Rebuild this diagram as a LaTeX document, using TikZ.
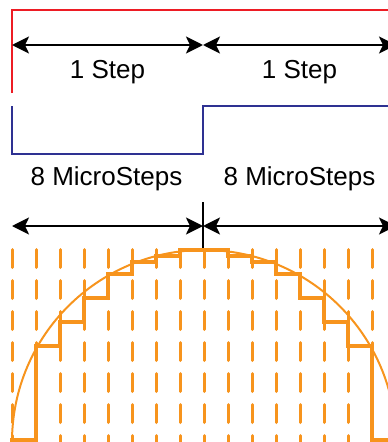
\documentclass[tikz,border=0pt]{standalone}
\usepackage{fontspec}
\setmainfont{Liberation Sans}
\usetikzlibrary{arrows.meta}
\definecolor{stepred}{HTML}{ED1C24}
\definecolor{stepnavy}{HTML}{2E3192}
\definecolor{microorange}{HTML}{F7941D}
\begin{document}
\begin{tikzpicture}[x=1pt,y=-1pt,
  span/.style={line width=2.2pt,
    {Stealth[length=17pt,width=17pt,inset=4pt]}-{Stealth[length=17pt,width=17pt,inset=4pt]}},
  label/.style={anchor=base,inner sep=0pt,font=\fontsize{26}{30}\selectfont},
  fullstep/.style={line width=2.6pt,stepred},
  halfstep/.style={line width=2.6pt,stepnavy},
  stair/.style={line width=3.4pt,microorange,line join=miter},
  sine/.style={line width=2pt,microorange},
  gridline/.style={line width=3pt,microorange,line cap=round,
    dash pattern=on 18pt off 13pt}]
\useasboundingbox (0,0) rectangle (388,442);
\clip (0,0) rectangle (388,442);

% full-step waveform
\draw[fullstep] (12,93) -- (12,10) -- (400,10);
% step width markers
\coordinate (a0) at (12,45);
\coordinate (a1) at (203,45);
\coordinate (a2) at (396,45);
\draw[span] (a0) -- (a1);
\draw[span] (a1) -- (a2);
\node[label] (stepA) at (107.5,78) {1 Step};
\node[label] (stepB) at (299.5,78) {1 Step};

% half-step waveform
\draw[halfstep] (12,106) -- (12,154) -- (203,154) -- (203,106) -- (400,106);
\node[label] (microA) at (106.5,185) {8 MicroSteps};
\node[label] (microB) at (299.5,185) {8 MicroSteps};

% microstep markers
\coordinate (b0) at (12,226);
\coordinate (b1) at (203,226);
\coordinate (b2) at (396,226);
\coordinate (t0) at (203,202);
\coordinate (t1) at (203,250);
\draw[span] (b0) -- (b1);
\draw[span] (b1) -- (b2);
\draw[line width=2.2pt] (t0) -- (t1);

% microstep grid
\foreach \k in {0,...,16}
  \draw[gridline] ({12+24*\k},249.5) -- ({12+24*\k},460);

% ideal sine current
\draw[sine] (204,442) circle[radius=192pt];

% microstepped current
\draw[stair] (12,450) -- (12,440) -- (36,440) -- (36,346) -- (60,346) -- (60,322)
  -- (84,322) -- (84,298) -- (108,298) -- (108,274) -- (132,274) -- (132,262)
  -- (156,262) -- (156,256) -- (180,256) -- (180,250) -- (228,250) -- (228,256)
  -- (252,256) -- (252,262) -- (276,262) -- (276,274) -- (300,274) -- (300,298)
  -- (324,298) -- (324,322) -- (348,322) -- (348,346) -- (372,346) -- (372,440)
  -- (396,440);
\end{tikzpicture}
\end{document}
